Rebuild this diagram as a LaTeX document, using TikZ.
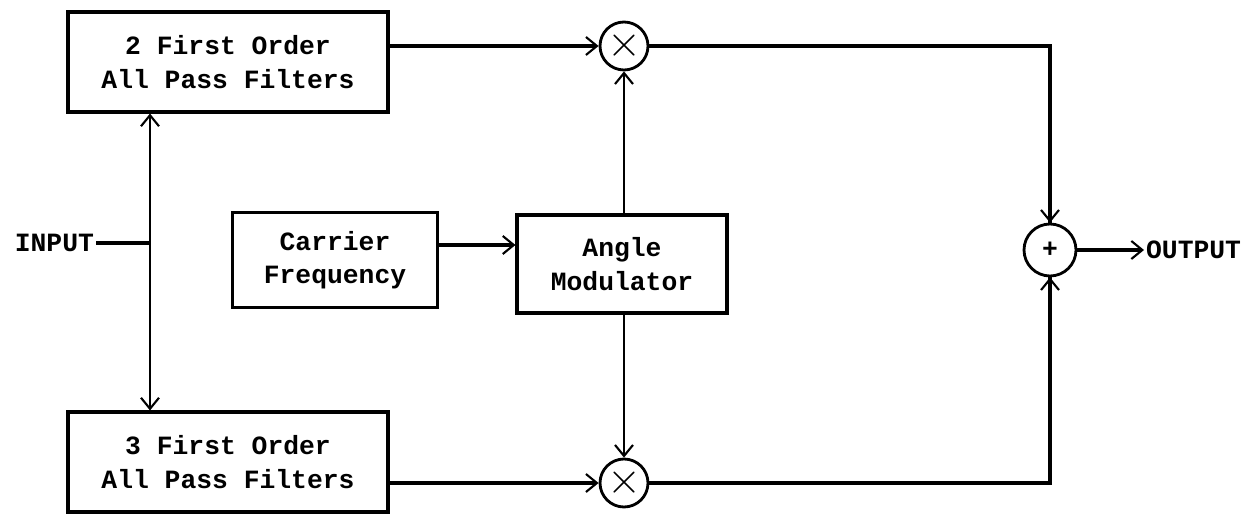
\documentclass[tikz,border=0pt]{standalone}
\usepackage{fontspec}
\setmonofont{Liberation Mono}
\usepackage{tikz}
\usetikzlibrary{arrows.meta,positioning,calc}

\begin{document}
\begin{tikzpicture}[x=0.02cm, y=-0.02cm,
    font=\ttfamily\bfseries\fontsize{15}{19}\selectfont,
    block/.style={draw, line width=1.8pt, align=center, minimum width=6.4cm, minimum height=2cm},
    junction/.style={draw, circle, line width=1.6pt, minimum size=0.96cm, inner sep=0pt},
    wire/.style={line width=1.8pt},
    thinwire/.style={line width=1.1pt},
    >={Straight Barb[length=2.2mm, width=3.6mm, line width=1.2pt]}]
    \useasboundingbox (0, 0) rectangle (1256, 516);
    % blocks
    \node[block] (apf2) at (228, 62) {2 First Order\\All Pass Filters};
    \node[block] (apf3) at (228, 462) {3 First Order\\All Pass Filters};
    \node[block, minimum width=4.1cm, minimum height=1.9cm] (carrier) at (335, 260) {Carrier\\Frequency};
    \node[block, minimum width=4.2cm, minimum height=1.96cm] (angle) at (622, 264) {Angle\\Modulator};
    \node[junction, font=\fontsize{24}{24}\selectfont] (mulA) at (624, 46) {$\times$};
    \node[junction, font=\fontsize{24}{24}\selectfont] (mulB) at (624, 483) {$\times$};
    \node[junction, minimum size=1.04cm] (sum) at (1050, 250) {+};
    \node[anchor=east, inner sep=1pt] (in) at (96, 243) {INPUT};
    \node[anchor=west, inner sep=1pt] (out) at (1144, 250) {OUTPUT};
    \coordinate (split) at (150, 243);
    % connectors
    \draw[wire] (in.east) -- (split);
    \draw[thinwire, ->] (split) -- (split |- apf2.south);
    \draw[thinwire, ->] (split) -- (split |- apf3.north);
    \draw[wire, ->] (apf2.east |- mulA) -- (mulA);
    \draw[wire, ->] (apf3.east |- mulB) -- (mulB);
    \draw[wire, ->] ([yshift=0.3cm]carrier.east) -- ([yshift=0.3cm]carrier.east -| angle.west);
    \draw[thinwire, ->] (angle.north -| mulA) -- (mulA);
    \draw[thinwire, ->] (angle.south -| mulB) -- (mulB);
    \draw[wire] (mulA) -| (sum);
    \draw[thinwire, ->] (sum |- mulA) -- (sum);
    \draw[wire] (mulB) -| (sum);
    \draw[thinwire, ->] (sum |- mulB) -- (sum);
    \draw[wire, ->] (sum) -- (out);
\end{tikzpicture}
\end{document}
